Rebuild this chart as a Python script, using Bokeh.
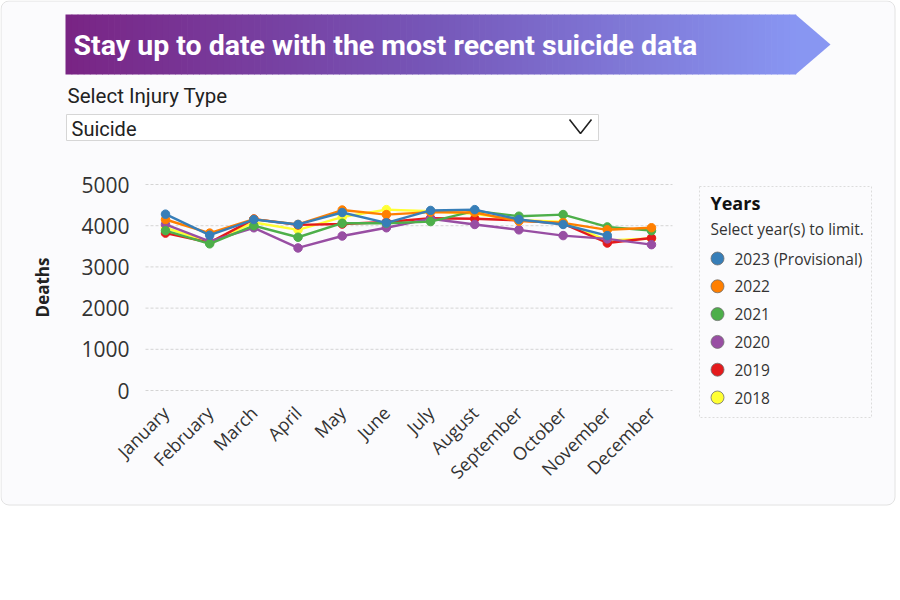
import math
from bokeh.plotting import figure
from bokeh.models import Range1d, FixedTicker, LinearAxis, ColumnDataSource
from bokeh.core.properties import value
from bokeh.embed import file_html
from bokeh.resources import INLINE

# ---------------- data ----------------
months = ["January", "February", "March", "April", "May", "June", "July",
          "August", "September", "October", "November", "December"]
years = ["2023 (Provisional)", "2022", "2021", "2020", "2019", "2018"]
deaths_2023 = [4280, 3770, 4150, 4030, 4320, 4070, 4370, 4390, 4150, 4030, 3760, float("nan")]
deaths_2022 = [4150, 3820, 4160, 4030, 4380, 4270, 4330, 4320, 4110, 4070, 3900, 3950]
deaths_2021 = [3880, 3560, 4000, 3720, 4060, 4060, 4100, 4360, 4230, 4270, 3970, 3880]
deaths_2020 = [4030, 3620, 3950, 3460, 3750, 3950, 4170, 4030, 3900, 3760, 3680, 3540]
deaths_2019 = [3820, 3590, 4160, 4020, 4040, 4090, 4180, 4170, 4130, 4050, 3580, 3700]
deaths_2018 = [3950, 3600, 4080, 3900, 4210, 4390, 4350, 4290, 4140, 4090, 3640, 3690]
series = [deaths_2023, deaths_2022, deaths_2021, deaths_2020, deaths_2019, deaths_2018]
colors = ["#377eb8", "#ff7f00", "#4daf4a", "#984ea3", "#e41a1c", "#ffff33"]
y_ticks = [0, 1000, 2000, 3000, 4000, 5000]

title_text = "Stay up to date with the most recent suicide data"
select_label = "Select Injury Type"
selected_type = "Suicide"
legend_title = "Years"
legend_subtitle = "Select year(s) to limit."
y_label = "Deaths"

# ---------------- layout (pixels) ----------------
W, H = 900, 600
X_FIRST_PX, X_STEP_PX = 165, 44.18        # centre of first month, month spacing
Y_ZERO_PX, Y_TOP_PX = 390, 184             # pixel rows of first and last tick
PLOT_L, PLOT_R, PLOT_B = 145, 672, 395
px_per_unit = (Y_ZERO_PX - Y_TOP_PX) / (y_ticks[-1] - y_ticks[0])


def xdata(px):
    return (px - X_FIRST_PX) / X_STEP_PX


def ydata(py):
    return (Y_ZERO_PX - py) / px_per_unit


CARD = "#fbfbfd"
TXT = "#333333"

p = figure(width=W, height=H,
           x_range=Range1d(xdata(0), xdata(W)), y_range=Range1d(ydata(H), ydata(0)),
           x_axis_location=None, y_axis_location=None,
           output_backend="svg", toolbar_location=None, min_border=0)
p.extra_x_ranges = {"px": Range1d(0, W)}
p.extra_y_ranges = {"py": Range1d(H, 0)}
p.outline_line_color = None
p.background_fill_color = "white"
p.border_fill_color = "white"
p.grid.visible = False

PX = dict(x_range_name="px", y_range_name="py")

# card
p.quad(left=[0.5], right=[894.5], top=[0.5], bottom=[504.5], fill_color=CARD,
       line_color="#e2e2e2", line_width=1, border_radius=8, **PX)

# gradient banner
stops = [(0.0, (121, 36, 132)), (0.5, (118, 86, 184)), (1.0, (136, 150, 242))]


def grad(t):
    for (t0, c0), (t1, c1) in zip(stops[:-1], stops[1:]):
        if t0 <= t <= t1:
            f = (t - t0) / (t1 - t0)
            return "#%02x%02x%02x" % tuple(int(round(a + (b - a) * f)) for a, b in zip(c0, c1))
    return "#%02x%02x%02x" % stops[-1][1]


bx0, bx1, tip, btop, bbot = 65, 795, 830, 14, 74
n = 120
step = (bx1 - bx0) / n
strips = ColumnDataSource(dict(
    left=[bx0 + i * step for i in range(n)],
    right=[bx0 + (i + 1) * step + 0.7 for i in range(n)],
    color=[grad((i + 0.5) / n) for i in range(n)]))
p.quad(left="left", right="right", top=btop, bottom=bbot, fill_color="color",
       line_color=None, source=strips, **PX)
p.patch(x=[bx1, tip, bx1], y=[btop, (btop + bbot) / 2, bbot], fill_color=grad(1.0),
        line_color=None, **PX)
p.text(x=[73], y=[45], text=[title_text], text_color="white", text_font=value("Roboto"),
       text_font_style="bold", text_font_size="28.5px", text_baseline="middle", **PX)

# selector
p.text(x=[67], y=[95], text=[select_label], text_color="#222222", text_font=value("Roboto"),
       text_font_size="20.5px", text_baseline="middle", **PX)
p.quad(left=[66], right=[598], top=[114], bottom=[140], fill_color="white",
       line_color="#d6d6d6", line_width=1, **PX)
p.text(x=[71], y=[128], text=[selected_type], text_color="#222222", text_font=value("Roboto"),
       text_font_size="20px", text_baseline="middle", **PX)
p.line(x=[569, 580, 591], y=[119, 133, 119], line_color="#222222", line_width=1.6, **PX)

# legend
p.quad(left=[699], right=[871], top=[186], bottom=[417], fill_color=CARD,
       line_color="#dcdcdc", line_width=1, line_dash="2 2", **PX)
p.text(x=[710], y=[202], text=[legend_title], text_color="#111111", text_font=value("Open Sans"),
       text_font_style="bold", text_font_size="18px", text_baseline="middle", **PX)
p.text(x=[710], y=[228], text=[legend_subtitle], text_color=TXT, text_font=value("Open Sans"),
       text_font_size="15.5px", text_baseline="middle", **PX)
item_y = [258 + i * 27.8 for i in range(len(years))]
p.scatter(x=[717] * len(years), y=item_y, size=13, fill_color=colors, line_color="#6f6f6f",
          line_width=0.8, **PX)
p.text(x=[734] * len(years), y=item_y, text=years, text_color=TXT, text_font=value("Open Sans"),
       text_font_size="15.5px", text_baseline="middle", **PX)

# gridlines (one per y tick, across the plot area)
p.segment(x0=[xdata(PLOT_L)] * len(y_ticks), x1=[xdata(PLOT_R)] * len(y_ticks),
          y0=y_ticks, y1=y_ticks, line_color="#d4d4d4", line_width=1, line_dash="3 2")

# data
xidx = list(range(len(months)))
for vals, col in reversed(list(zip(series, colors))):
    p.line(xidx, vals, line_color=col, line_width=2.4)
    p.scatter(xidx, vals, size=8.5, fill_color=col, line_color=col)

# axes
yaxis = LinearAxis(ticker=FixedTicker(ticks=y_ticks), fixed_location=xdata(PLOT_L),
                   bounds=(y_ticks[0], y_ticks[-1]))
yaxis.axis_line_color = None
yaxis.major_tick_line_color = None
yaxis.minor_tick_line_color = None
yaxis.major_label_text_font = "Open Sans"
yaxis.major_label_text_font_size = "21px"
yaxis.major_label_text_color = TXT
yaxis.major_label_standoff = 10
yaxis.axis_label = y_label
yaxis.axis_label_text_font = "Open Sans"
yaxis.axis_label_text_font_style = "bold"
yaxis.axis_label_text_font_size = "17px"
yaxis.axis_label_text_color = "#222222"
yaxis.axis_label_standoff = 24
p.add_layout(yaxis, "left")

xaxis = LinearAxis(ticker=FixedTicker(ticks=xidx),
                   major_label_overrides={i: m for i, m in enumerate(months)},
                   fixed_location=ydata(PLOT_B), bounds=(xidx[0], xidx[-1]))
xaxis.axis_line_color = None
xaxis.major_tick_line_color = None
xaxis.minor_tick_line_color = None
xaxis.major_label_orientation = math.pi / 4
xaxis.major_label_text_font = "Open Sans"
xaxis.major_label_text_font_size = "18px"
xaxis.major_label_text_color = TXT
xaxis.major_label_standoff = 8
p.add_layout(xaxis, "below")

open("out.html", "w").write(file_html(p, INLINE))
